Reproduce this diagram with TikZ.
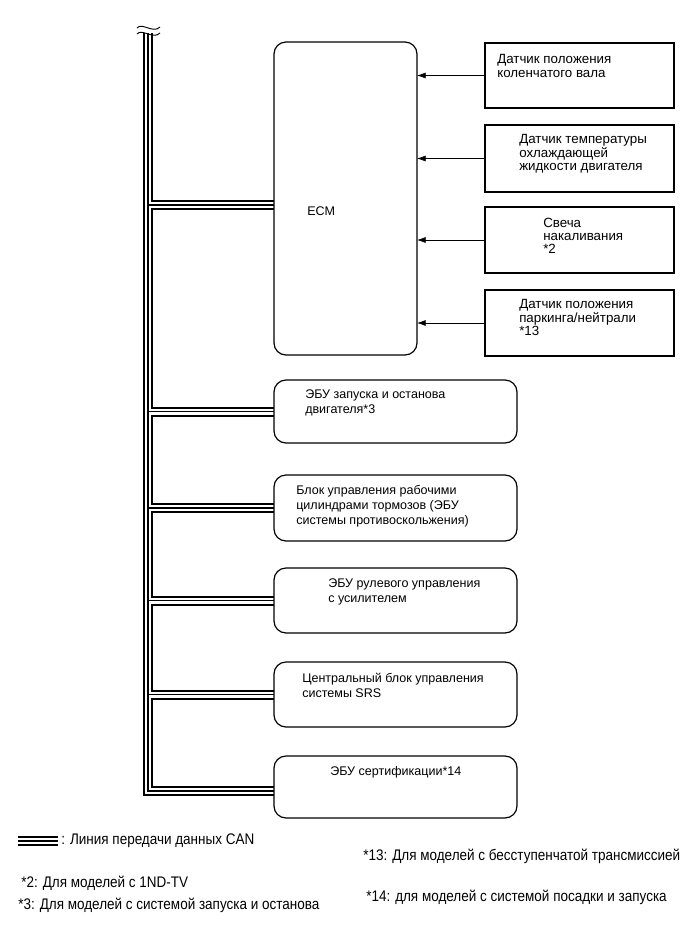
\documentclass[tikz,border=0pt]{standalone}
\usepackage{fontspec}
\setmainfont{Liberation Sans}
\newfontfamily\notefont[FakeStretch=0.88]{Liberation Sans}
\usetikzlibrary{calc,arrows.meta,backgrounds}

\tikzset{
  ecu/.style={draw, line width=0.9pt, rounded corners=9pt, inner sep=0pt, outer sep=0pt, anchor=north west, minimum width=243*0.75pt},
  sensor/.style={draw, line width=0.9pt, inner sep=0pt, outer sep=0pt, anchor=north west, minimum width=189*0.75pt},
  txt/.style={inner sep=0pt, anchor=north west, align=left, font=\fontsize{9.4}{11.25}\selectfont},
  stxt/.style={txt, font=\fontsize{10}{9.9}\selectfont},
  note/.style={inner sep=0pt, anchor=west, font=\notefont\fontsize{11.5}{12}\selectfont},
  sig/.style={line width=0.5pt, -{Latex[length=6.5pt,width=4.5pt]}}
}

\begin{document}
\begin{tikzpicture}[x=0.75pt,y=-0.75pt]

\def\px{0.75pt}
\def\busx{148}
\def\bustopy{33}
\def\busboty{791}

\useasboundingbox (0,0) rectangle (691,951);

% ECM and its inputs
\node[ecu, minimum width=143*\px, minimum height=313*\px] (ECM) at (274,42) {};
\node[txt] (ECMtxt) at ($(ECM.north west)+(33,164.5)$) {ECM};

\node[sensor, minimum height=65*\px] (S1) at (485,43) {};
\node[sensor, minimum height=67*\px] (S2) at (485,125) {};
\node[sensor, minimum height=66*\px] (S3) at (485,207) {};
\node[sensor, minimum height=66*\px] (S4) at (485,290) {};

\node[stxt] (S1txt) at ($(S1.north west)+(12,11.5)$) {Датчик положения\\коленчатого вала};
\node[stxt] (S2txt) at ($(S2.north west)+(34,9.5)$) {Датчик температуры\\охлаждающей\\жидкости двигателя};
\node[stxt] (S3txt) at ($(S3.north west)+(58,10.5)$) {Свеча\\накаливания\\*2};
\node[stxt] (S4txt) at ($(S4.north west)+(34,9.5)$) {Датчик положения\\паркинга/нейтрали\\*13};

\foreach \x in {1,...,4}
{
\draw [sig] (S\x.west) -- (S\x.west -| ECM.east);
}

% other ECUs on the bus
\node[ecu, minimum height=63*\px] (U1) at (274,380) {};
\node[ecu, minimum height=66*\px] (U2) at (274,475) {};
\node[ecu, minimum height=65*\px] (U3) at (274,568) {};
\node[ecu, minimum height=65*\px] (U4) at (274,662) {};
\node[ecu, minimum height=62*\px] (U5) at (274,756) {};

\node[txt] (U1txt) at ($(U1.north west)+(31,9.5)$) {ЭБУ запуска и останова\\двигателя*3};
\node[txt] (U2txt) at ($(U2.north west)+(22,10.5)$) {Блок управления рабочими\\цилиндрами тормозов (ЭБУ\\системы противоскольжения)};
\node[txt] (U3txt) at ($(U3.north west)+(54,10.5)$) {ЭБУ рулевого управления\\с усилителем};
\node[txt] (U4txt) at ($(U4.north west)+(28,10.5)$) {Центральный блок управления\\системы SRS};
\node[txt] (U5txt) at ($(U5.north west)+(56,10.5)$) {ЭБУ сертификации*14};

% CAN bus
\coordinate (bustop) at (\busx,\bustopy);
\coordinate (busbot) at (\busx,\busboty);
\coordinate (br0) at (ECM.west |- 0,205);
\coordinate (can1) at (18,841);
\coordinate (can2) at (58,841);

\begin{scope}[on background layer]
\foreach \w/\c in {10/black,6/white,1.6/black}
{
\draw [line width=\w*\px,\c,line join=miter] (bustop) -- (busbot) -- (busbot -| U5.west);
\draw [line width=\w*\px,\c] (bustop |- br0) -- (br0);
\foreach \x in {1,...,4}
{
\draw [line width=\w*\px,\c] (bustop |- U\x.west) -- (U\x.west);
}
\draw [line width=\w*\px,\c] (can1) -- (can2);
}
\end{scope}

% break mark
\draw [line width=0.7pt] (137,28) .. controls (142,22) and (153,34) .. (160,27);
\draw [line width=0.7pt] (137,34) .. controls (142,28) and (153,40) .. (160,33);

% legend
\node[note] (cantxt) at (61,841) {: Линия передачи данных CAN};
\node[note] (n13) at (363,856) {*13: Для моделей с бесступенчатой трансмиссией};
\node[note] (n2) at (21,883) {*2: Для моделей с 1ND-TV};
\node[note] (n14) at (366,897) {*14: для моделей с системой посадки и запуска};
\node[note] (n3) at (18,905) {*3: Для моделей с системой запуска и останова};

\end{tikzpicture}
\end{document}
